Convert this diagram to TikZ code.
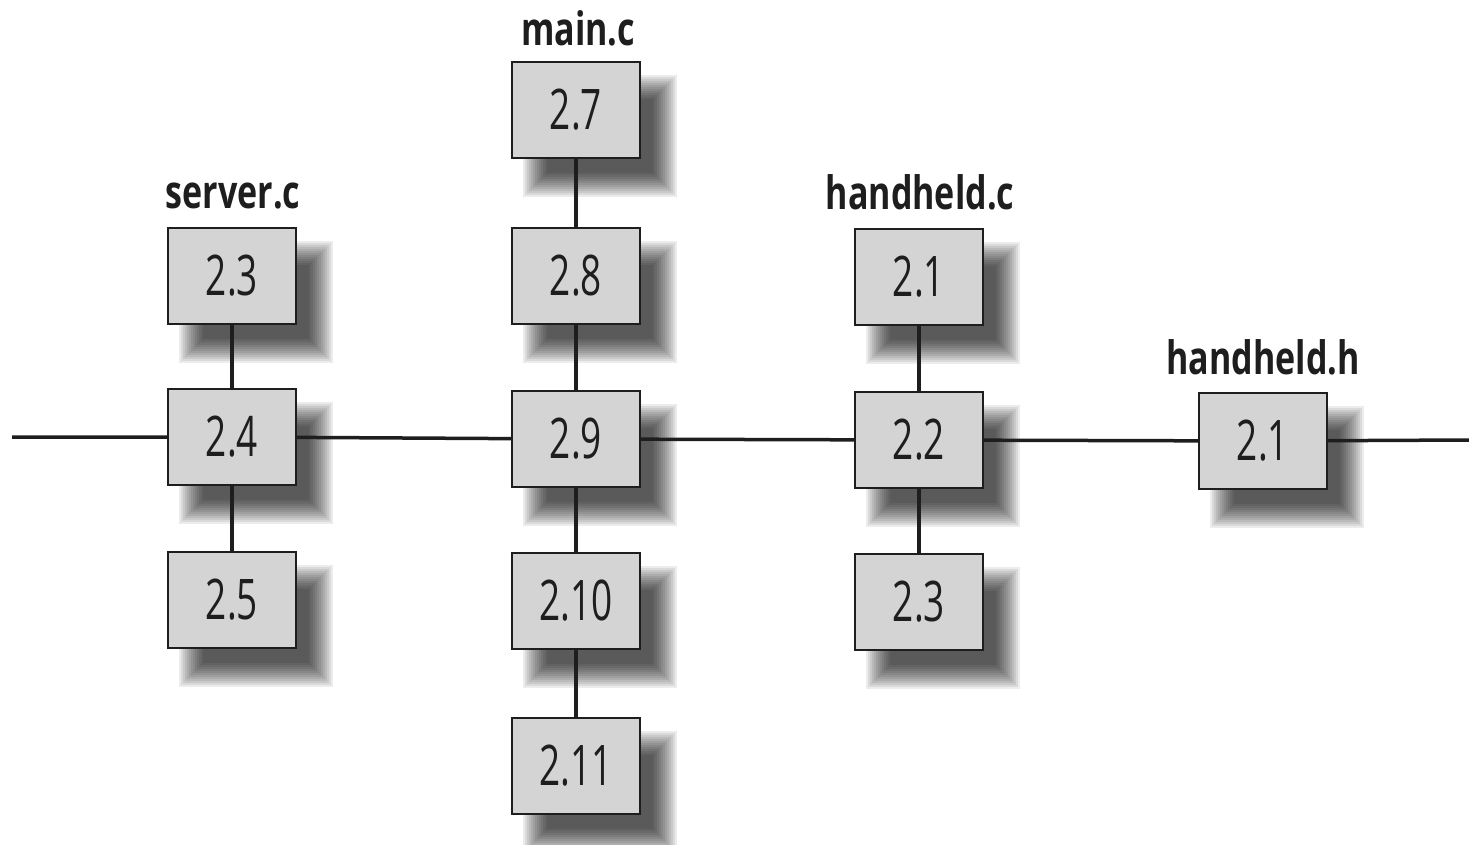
\documentclass[tikz,border=0pt]{standalone}
\usepackage{fontspec}
\newfontfamily\numfont{Open Sans}[FakeStretch=0.66]
\newfontfamily\labfont{Open Sans}[FakeStretch=0.74]
\definecolor{boxgray}{RGB}{212,212,212}
\definecolor{ink}{RGB}{30,30,30}
\pgfdeclarelayer{bglayer}
\pgfdeclarelayer{shadowlayer}
\pgfdeclarelayer{linelayer}
\pgfsetlayers{bglayer,shadowlayer,linelayer,main}
\tikzset{
  box/.style={draw=ink, line width=2.5pt, fill=boxgray, minimum width=128pt, minimum height=96pt, inner sep=0pt,
    font=\numfont\fontsize{56}{60}\selectfont, text=ink},
  lab/.style={anchor=base, inner sep=0pt, font=\labfont\bfseries\fontsize{46}{50}\selectfont, text=ink},
  conn/.style={line width=3.5pt, draw=ink},
}
\newcommand\dropshadow[1]{%
  \foreach \d in {-12,-10,...,12}{%
    \fill[black,fill opacity=0.075] ([shift={(24-\d,26-\d)}]#1.north west) rectangle ([shift={(24+\d,26+\d)}]#1.south east);}}
\begin{document}
\begin{tikzpicture}[x=1pt,y=-1pt]
\useasboundingbox (0,0) rectangle (1469,844);
\begin{pgfonlayer}{bglayer}
  \fill[white] (0,0) rectangle (1469,844);
\end{pgfonlayer}
% labels
\node[lab] (lserver) at (233,208) {server.c};
\node[lab] (lmain) at (578,45) {main.c};
\node[lab] (lhc) at (920,209) {handheld.c};
\node[lab] (lhh) at (1263,374) {handheld.h};
% server.c column
\node[box] (s3) at (232,276) {2.3};
\node[box] (s4) at (232,437) {2.4};
\node[box] (s5) at (232,600) {2.5};
% main.c column
\node[box] (m7) at (576,110) {2.7};
\node[box] (m8) at (576,276) {2.8};
\node[box] (m9) at (576,439) {2.9};
\node[box] (m10) at (576,601) {2.10};
\node[box] (m11) at (576,766) {2.11};
% handheld.c column
\node[box] (h1) at (919,277) {2.1};
\node[box] (h2) at (919,440) {2.2};
\node[box] (h3) at (919,602) {2.3};
% handheld.h
\node[box] (hh1) at (1263,441) {2.1};
\coordinate (L) at (12,437);
\coordinate (R) at (1469,440);
\begin{pgfonlayer}{shadowlayer}
  \foreach \n in {s3,s4,s5,m7,m8,m9,m10,m11,h1,h2,h3,hh1}{\dropshadow{\n}}
\end{pgfonlayer}
\begin{pgfonlayer}{linelayer}
  \draw[conn] (L) -- (s4.center) -- (m9.center) -- (h2.center) -- (hh1.center) -- (R);
  \draw[conn] (s3.center) -- (s5.center);
  \draw[conn] (m7.center) -- (m11.center);
  \draw[conn] (h1.center) -- (h3.center);
\end{pgfonlayer}
\end{tikzpicture}
\end{document}
